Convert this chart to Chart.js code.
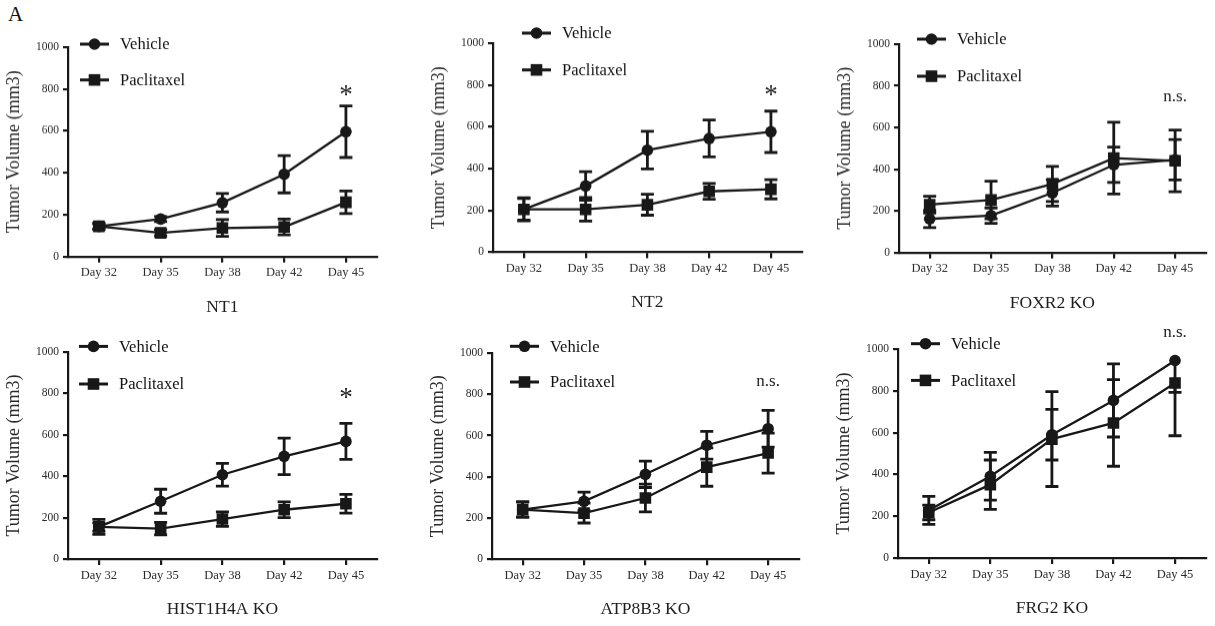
<!DOCTYPE html>
<html>
<head>
<meta charset="utf-8">
<title>Tumor volume</title>
<script src="https://cdn.jsdelivr.net/npm/chart.js@4.4.0/dist/chart.umd.min.js"></script>
<style>
    html, body { margin: 0; padding: 0; background: #fff; }
    body { width: 1215px; height: 626px; position: relative; overflow: hidden; font-family: "Liberation Serif", "Times New Roman", serif; }
    .panel { position: absolute; }
    #figLabel { position: absolute; left: 8px; top: 2px; font-size: 21px; color: #111; }
</style>
</head>
<body>
<div id="figLabel">A</div>
<div id="panels"></div>
<script>
// Categories and axis
const days = ['Day 32', 'Day 35', 'Day 38', 'Day 42', 'Day 45'];
const yMin = 0;
const yMax = 1000;
const yStep = 200;
const seriesNames = ['Vehicle', 'Paclitaxel'];
const panelTitles = ['NT1', 'NT2', 'FOXR2 KO', 'HIST1H4A KO', 'ATP8B3 KO', 'FRG2 KO'];

// Mean tumour volume (mm3) and error bars
const nt1Vehicle = [144, 179, 257, 393, 596];
const nt1VehicleErr = [12, 12, 44, 89, 123];
const nt1Paclitaxel = [144, 113, 136, 141, 259];
const nt1PaclitaxelErr = [15, 15, 40, 38, 54];

const nt2Vehicle = [205, 317, 488, 544, 576];
const nt2VehicleErr = [55, 68, 90, 88, 99];
const nt2Paclitaxel = [205, 205, 227, 291, 301];
const nt2PaclitaxelErr = [52, 56, 50, 38, 46];

const foxr2Vehicle = [161, 177, 286, 421, 445];
const foxr2VehicleErr = [41, 37, 63, 85, 97];
const foxr2Paclitaxel = [230, 252, 329, 453, 440];
const foxr2PaclitaxelErr = [40, 90, 84, 172, 148];

const hist1h4aVehicle = [155, 279, 407, 496, 568];
const hist1h4aVehicleErr = [20, 58, 55, 88, 87];
const hist1h4aPaclitaxel = [155, 147, 193, 238, 267];
const hist1h4aPaclitaxelErr = [36, 30, 35, 38, 45];

const atp8b3Vehicle = [241, 281, 412, 553, 633];
const atp8b3VehicleErr = [37, 45, 64, 67, 89];
const atp8b3Paclitaxel = [241, 224, 297, 447, 515];
const atp8b3PaclitaxelErr = [37, 48, 67, 93, 97];

const frg2Vehicle = [228, 391, 590, 754, 945];
const frg2VehicleErr = [67, 114, 121, 175, 153];
const frg2Paclitaxel = [218, 351, 569, 646, 837];
const frg2PaclitaxelErr = [35, 118, 227, 207, 252];

// Significance marks above Day 45
const sigLabels = ['*', '*', 'n.s.', '*', 'n.s.', 'n.s.'];
const sigLevels = [795, 776, 745, 803, 858, 1077];

const panelSeries = [
    [nt1Vehicle, nt1VehicleErr, nt1Paclitaxel, nt1PaclitaxelErr],
    [nt2Vehicle, nt2VehicleErr, nt2Paclitaxel, nt2PaclitaxelErr],
    [foxr2Vehicle, foxr2VehicleErr, foxr2Paclitaxel, foxr2PaclitaxelErr],
    [hist1h4aVehicle, hist1h4aVehicleErr, hist1h4aPaclitaxel, hist1h4aPaclitaxelErr],
    [atp8b3Vehicle, atp8b3VehicleErr, atp8b3Paclitaxel, atp8b3PaclitaxelErr],
    [frg2Vehicle, frg2VehicleErr, frg2Paclitaxel, frg2PaclitaxelErr]
];

// Plot area of each panel on the page, and where its legend sits
const panelBoxes = [
    { l: 68,  t: 47.3,  r: 381,  b: 256,   legX: 12, legY: [-3, 32.7] },
    { l: 493, t: 43.3,  r: 806,  b: 251.7, legX: 29, legY: [-10, 26.7] },
    { l: 899, t: 44,    r: 1210, b: 251.7, legX: 18, legY: [-5, 32] },
    { l: 68,  t: 352.3, r: 381,  b: 559.3, legX: 11, legY: [-5.6, 32] },
    { l: 492, t: 352.7, r: 803,  b: 559,   legX: 18, legY: [-6.7, 29] },
    { l: 898, t: 349.3, r: 1210, b: 558.3, legX: 13, legY: [-5.3, 31.4] }
];

const SERIF = '"Liberation Serif", "Times New Roman", serif';
const INK = '#181818';
const Y_AXIS_W = 68;
const X_AXIS_H = 64;
const PAD_TOP = 30;
const PAD_RIGHT = 4;

Chart.defaults.font.family = SERIF;

function drawMarker(ctx, style, x, y) {
    ctx.beginPath();
    if (style === 'circle') {
        ctx.arc(x, y, 5.8, 0, Math.PI * 2);
    } else {
        ctx.rect(x - 5.8, y - 5.8, 11.6, 11.6);
    }
    ctx.fill();
}

const errorBarPlugin = {
    id: 'errorBars',
    beforeDatasetsDraw(chart) {
        const ctx = chart.ctx;
        const yScale = chart.scales.y;
        ctx.save();
        ctx.strokeStyle = INK;
        ctx.lineWidth = 2.8;
        chart.data.datasets.forEach((ds, i) => {
            const meta = chart.getDatasetMeta(i);
            meta.data.forEach((pt, j) => {
                const v = ds.data[j];
                const e = ds.errors[j];
                const x = pt.x;
                const yc = yScale.getPixelForValue(v);
                const ends = [];
                // parts above the axis maximum are left out, as in the original
                if (v + e <= yScale.max) ends.push(yScale.getPixelForValue(v + e));
                if (v - e >= yScale.min) ends.push(yScale.getPixelForValue(v - e));
                ends.forEach(yy => {
                    ctx.beginPath();
                    ctx.moveTo(x, yc);
                    ctx.lineTo(x, yy);
                    ctx.moveTo(x - 6.5, yy);
                    ctx.lineTo(x + 6.5, yy);
                    ctx.stroke();
                });
            });
        });
        ctx.restore();
    }
};

const decorPlugin = {
    id: 'decor',
    afterDraw(chart, args, opts) {
        const ctx = chart.ctx;
        const area = chart.chartArea;
        ctx.save();
        // legend
        const styles = ['circle', 'rect'];
        seriesNames.forEach((name, i) => {
            const x0 = area.left + opts.legX;
            const y0 = area.top + opts.legY[i];
            ctx.strokeStyle = INK;
            ctx.fillStyle = INK;
            ctx.lineWidth = 3;
            ctx.beginPath();
            ctx.moveTo(x0, y0);
            ctx.lineTo(x0 + 29, y0);
            ctx.stroke();
            drawMarker(ctx, styles[i], x0 + 14.5, y0);
            ctx.fillStyle = '#111';
            ctx.font = '16.5px ' + SERIF;
            ctx.textBaseline = 'middle';
            ctx.textAlign = 'left';
            ctx.fillText(name, x0 + 40, y0 + 1);
        });
        // significance mark
        const xs = chart.scales.x.getPixelForValue(days.length - 1);
        const ys = chart.scales.y.getPixelForValue(opts.sigValue);
        ctx.fillStyle = '#222';
        ctx.textAlign = 'center';
        ctx.textBaseline = 'alphabetic';
        if (opts.sig === '*') {
            ctx.font = '27px ' + SERIF;
            ctx.fillText('*', xs, ys + 13);
        } else {
            ctx.font = '17px ' + SERIF;
            ctx.fillText(opts.sig, xs, ys + 4);
        }
        ctx.restore();
    }
};

const holder = document.getElementById('panels');

panelBoxes.forEach((box, p) => {
    const left = box.l - Y_AXIS_W;
    const top = box.t - PAD_TOP;
    const width = box.r - left + PAD_RIGHT;
    const height = box.b + X_AXIS_H - top;

    const div = document.createElement('div');
    div.className = 'panel';
    div.style.left = left + 'px';
    div.style.top = top + 'px';
    div.style.width = width + 'px';
    div.style.height = height + 'px';
    const canvas = document.createElement('canvas');
    div.appendChild(canvas);
    holder.appendChild(div);

    const [veh, vehErr, pac, pacErr] = panelSeries[p];

    new Chart(canvas, {
        type: 'line',
        data: {
            labels: days,
            datasets: [
                {
                    label: seriesNames[0],
                    data: veh,
                    errors: vehErr,
                    borderColor: INK,
                    backgroundColor: INK,
                    borderWidth: 2.3,
                    pointStyle: 'circle',
                    pointRadius: 5.8,
                    pointBorderWidth: 0,
                    tension: 0
                },
                {
                    label: seriesNames[1],
                    data: pac,
                    errors: pacErr,
                    borderColor: INK,
                    backgroundColor: INK,
                    borderWidth: 2.3,
                    pointStyle: 'rect',
                    pointRadius: 8.2,
                    pointBorderWidth: 0,
                    tension: 0
                }
            ]
        },
        options: {
            responsive: true,
            maintainAspectRatio: false,
            animation: false,
            layout: { padding: { top: PAD_TOP, right: PAD_RIGHT, left: 0, bottom: 0 } },
            plugins: {
                legend: { display: false },
                tooltip: { enabled: false },
                decor: { legX: box.legX, legY: box.legY, sig: sigLabels[p], sigValue: sigLevels[p] }
            },
            scales: {
                x: {
                    type: 'category',
                    offset: true,
                    grid: { display: true, drawOnChartArea: false, drawTicks: true, tickLength: 6, lineWidth: 2.2, color: INK },
                    border: { display: true, color: INK, width: 2.2 },
                    ticks: { color: '#2a2a2a', font: { size: 12.5 }, padding: 3, maxRotation: 0, autoSkip: false },
                    title: {
                        display: true,
                        text: panelTitles[p],
                        color: '#1e1e1e',
                        font: { size: 17.5 },
                        padding: { top: 0, bottom: 3 }
                    },
                    afterFit: s => { s.height = X_AXIS_H; }
                },
                y: {
                    min: yMin,
                    max: yMax,
                    grid: { display: true, drawOnChartArea: false, drawTicks: true, tickLength: 5, lineWidth: 2.2, color: INK },
                    border: { display: true, color: INK, width: 2.2 },
                    ticks: {
                        stepSize: yStep,
                        color: '#2a2a2a',
                        font: { size: 11.5 },
                        padding: 4,
                        callback: v => String(v)
                    },
                    title: {
                        display: true,
                        text: 'Tumor Volume (mm3)',
                        color: '#2a2a2a',
                        font: { size: 18 },
                        padding: { top: 3, bottom: 0 }
                    },
                    afterFit: s => { s.width = Y_AXIS_W; }
                }
            }
        },
        plugins: [errorBarPlugin, decorPlugin]
    });
});
</script>
</body>
</html>
